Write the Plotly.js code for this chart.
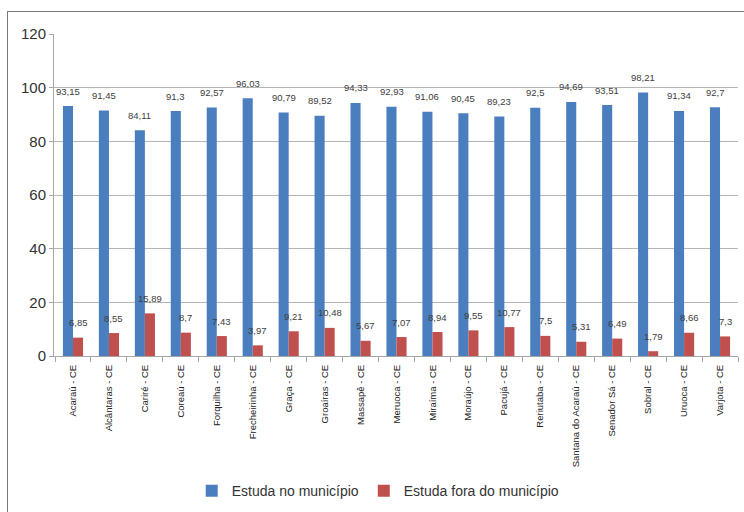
<!DOCTYPE html>
<html>
<head>
<meta charset="utf-8">
<script src="https://cdn.plot.ly/plotly-3.0.1.min.js"></script>
<style>
  html, body { margin: 0; padding: 0; background: #fff; }
  #wrap { position: relative; width: 744px; height: 512px; overflow: hidden; }
  #chart { position: absolute; left: 0; top: 0; width: 744px; height: 512px; }
  #frame { position: absolute; left: 7px; top: 11px; width: 760px; height: 520px;
           border: 1.5px solid #7a7a7a; pointer-events: none; box-sizing: border-box; }
</style>
</head>
<body>
<div id="wrap">
  <div id="chart"></div>
  <div id="frame"></div>
</div>
<script>
// Municípios da região
const municipios = [
  'Acaraú - CE', 'Alcântaras - CE', 'Cariré - CE', 'Coreaú - CE', 'Forquilha - CE',
  'Frecheirinha - CE', 'Graça - CE', 'Groaíras - CE', 'Massapê - CE', 'Meruoca - CE',
  'Miraíma - CE', 'Moraújo - CE', 'Pacujá - CE', 'Reriutaba - CE', 'Santana do Acaraú - CE',
  'Senador Sá - CE', 'Sobral - CE', 'Uruoca - CE', 'Varjota - CE'
];

// Percentual que estuda no próprio município
const estudaNo = [93.15, 91.45, 84.11, 91.3, 92.57, 96.03, 90.79, 89.52, 94.33, 92.93,
                  91.06, 90.45, 89.23, 92.5, 94.69, 93.51, 98.21, 91.34, 92.7];

// Percentual que estuda fora do município
const estudaFora = [6.85, 8.55, 15.89, 8.7, 7.43, 3.97, 9.21, 10.48, 5.67, 7.07,
                    8.94, 9.55, 10.77, 7.5, 5.31, 6.49, 1.79, 8.66, 7.3];

const yTicks = [0, 20, 40, 60, 80, 100, 120];

const seriesNames = ['Estuda no município', 'Estuda fora do município'];
const seriesColors = ['#4a7ebf', '#c0504d'];

const fmt = v => String(v).replace('.', ',');

const traces = [estudaNo, estudaFora].map((vals, i) => ({
  type: 'bar',
  name: seriesNames[i],
  x: municipios,
  y: vals,
  marker: { color: seriesColors[i] },
  hoverinfo: 'x+y'
}));

// Rótulos de valor acima de cada barra
const annotations = [];
[estudaNo, estudaFora].forEach((vals, i) => {
  vals.forEach((v, k) => {
    annotations.push({
      x: municipios[k], y: v, xref: 'x', yref: 'y',
      text: fmt(v), showarrow: false,
      xshift: i === 0 ? -5 : 5, yshift: 15,
      yanchor: 'middle', xanchor: 'center',
      font: { family: 'Liberation Sans, Arial, sans-serif', size: 9.5, color: '#404040' }
    });
  });
});

const layout = {
  width: 744, height: 512,
  margin: { l: 54, r: 6, t: 34, b: 155 },
  paper_bgcolor: '#ffffff', plot_bgcolor: '#ffffff',
  font: { family: 'Liberation Sans, Arial, sans-serif', color: '#333' },
  barmode: 'group', bargap: 0.44, bargroupgap: 0,
  showlegend: true,
  legend: {
    orientation: 'h', x: 0.474, xanchor: 'center', y: -0.415, yanchor: 'middle',
    font: { size: 14, color: '#333' }, itemwidth: 30, traceorder: 'normal'
  },
  xaxis: {
    type: 'category',
    tickangle: -90,
    tickfont: { size: 9.5, color: '#222' },
    ticklabelstandoff: 4,
    showline: true, linecolor: '#a6a6a6', linewidth: 1,
    ticks: 'outside', tickson: 'boundaries', ticklen: 5, tickcolor: '#a6a6a6',
    showgrid: false, fixedrange: true
  },
  yaxis: {
    range: [0, 120], tickvals: yTicks, ticktext: yTicks.map(String),
    tickfont: { size: 15, color: '#333' },
    showline: true, linecolor: '#a6a6a6', linewidth: 1,
    ticks: 'outside', ticklen: 4, tickcolor: '#a6a6a6',
    showgrid: true, gridcolor: '#b5b5b5', gridwidth: 1,
    zeroline: false, fixedrange: true
  },
  annotations: annotations
};

Plotly.newPlot('chart', traces, layout, { displayModeBar: false, staticPlot: true });
</script>
</body>
</html>
